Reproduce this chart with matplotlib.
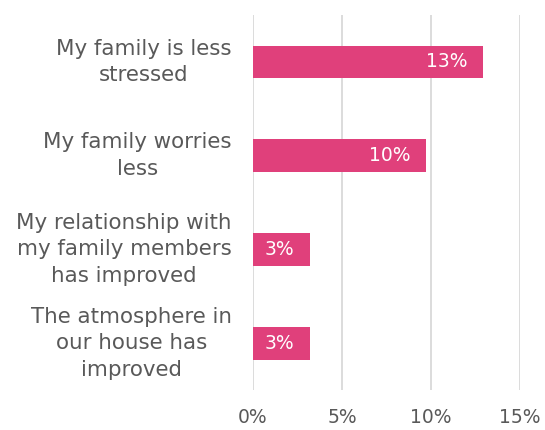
import matplotlib.pyplot as plt
import numpy as np

# Share of respondents per statement (%)
labels = [
    "My family is less\nstressed",
    "My family worries\nless",
    "My relationship with\nmy family members\nhas improved",
    "The atmosphere in\nour house has\nimproved",
]
values = [12.9, 9.7, 3.2, 3.2]
xticks = [0, 5, 10, 15]

bar_color = "#E0407B"
text_color = "#595959"

fig = plt.figure(figsize=(5.45, 4.30), dpi=100)
ax = fig.add_axes([0.464, 0.093, 0.49, 0.872])

y = np.arange(len(labels))
bars = ax.barh(y, values, height=0.35, color=bar_color, zorder=3)

ax.set_xlim(0, 15)
ax.set_ylim(3.5, -0.5)
ax.set_xticks(xticks, [f"{t}%" for t in xticks])
ax.set_yticks(y, [])
ax.tick_params(axis="both", length=0, labelsize=13.5, colors=text_color)
ax.tick_params(axis="x", pad=13)

# category labels: block right-aligned to the axis, lines centred
for yi, lab in zip(y, labels):
    ax.text(-0.079, yi, lab, transform=ax.get_yaxis_transform(),
            ha="right", va="center", multialignment="center",
            fontsize=15.4, color=text_color, linespacing=1.4)

ax.grid(True, axis="x", color="#D9D9D9", linewidth=1.3, zorder=0)
for s in ax.spines.values():
    s.set_visible(False)

# value labels inside the bar ends
for rect, v in zip(bars, values):
    ax.annotate(f"{v:.0f}%", xy=(v, rect.get_y() + rect.get_height() / 2),
                xytext=(-11, 0), textcoords="offset points",
                ha="right", va="center", color="white", fontsize=13.5, zorder=4)

fig.savefig("out.png", dpi=100)
